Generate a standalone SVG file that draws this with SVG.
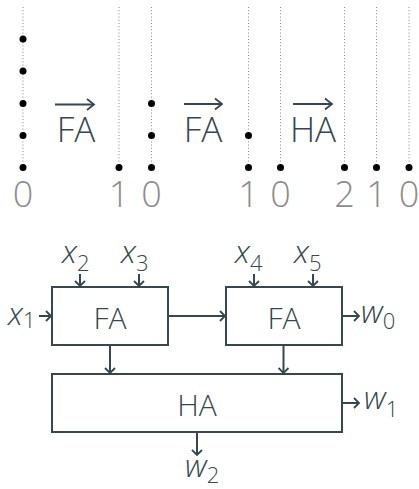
<svg xmlns="http://www.w3.org/2000/svg" width="419" height="489" viewBox="0 0 419 489">
<style>
.grid{stroke:#888;stroke-width:1;stroke-dasharray:1 2.2;fill:none}
.dot{fill:#000}
.dig{font-family:"Open Sans","Liberation Sans",sans-serif;font-weight:300;font-size:36px;fill:#8c8c8c;text-anchor:middle}
.op{font-family:"Open Sans","Liberation Sans",sans-serif;font-weight:300;font-size:35px;fill:#36474f;text-anchor:middle}
.box{fill:none;stroke:#36474f;stroke-width:2}
.lbl{font-family:"Open Sans","Liberation Sans",sans-serif;font-weight:300;font-size:30px;fill:#36474f;text-anchor:middle}
.var{font-family:"Open Sans","Liberation Sans",sans-serif;font-weight:300;font-size:32px;fill:#36474f;font-style:italic}
.sub{font-style:normal;font-size:22px}
.ln{fill:none;stroke:#36474f;stroke-width:2}
</style>
<defs>
<marker id="ah" markerUnits="userSpaceOnUse" markerWidth="12" markerHeight="12" refX="10" refY="6" orient="auto">
<path d="M5,1 L10,6 L5,11" fill="none" stroke="#36474f" stroke-width="1.8"/>
</marker>
<marker id="big" markerUnits="userSpaceOnUse" markerWidth="14" markerHeight="14" refX="12" refY="7" orient="auto">
<path d="M5,1.5 L12,7 L5,12.5" fill="none" stroke="#36474f" stroke-width="1.8"/>
</marker>
</defs>

<g id="dot-diagram">
<g id="grid">
<line class="grid" x1="23" y1="7" x2="23" y2="168"/>
<line class="grid" x1="119" y1="7" x2="119" y2="168"/>
<line class="grid" x1="151.5" y1="7" x2="151.5" y2="168"/>
<line class="grid" x1="248.5" y1="7" x2="248.5" y2="168"/>
<line class="grid" x1="280.5" y1="7" x2="280.5" y2="168"/>
<line class="grid" x1="344.5" y1="7" x2="344.5" y2="168"/>
<line class="grid" x1="376.5" y1="7" x2="376.5" y2="168"/>
<line class="grid" x1="409" y1="7" x2="409" y2="168"/>
</g>
<g id="dots">
<circle class="dot" cx="23" cy="39" r="3.5"/>
<circle class="dot" cx="23" cy="71" r="3.5"/>
<circle class="dot" cx="23" cy="103.5" r="3.5"/>
<circle class="dot" cx="23" cy="135.5" r="3.5"/>
<circle class="dot" cx="23" cy="167.5" r="3.5"/>
<circle class="dot" cx="119" cy="167.5" r="3.5"/>
<circle class="dot" cx="151.5" cy="103.5" r="3.5"/>
<circle class="dot" cx="151.5" cy="135.5" r="3.5"/>
<circle class="dot" cx="151.5" cy="167.5" r="3.5"/>
<circle class="dot" cx="248.5" cy="135.5" r="3.5"/>
<circle class="dot" cx="248.5" cy="167.5" r="3.5"/>
<circle class="dot" cx="280.5" cy="167.5" r="3.5"/>
<circle class="dot" cx="344.5" cy="167.5" r="3.5"/>
<circle class="dot" cx="376.5" cy="167.5" r="3.5"/>
<circle class="dot" cx="409" cy="167.5" r="3.5"/>
</g>
<g id="weights">
<text class="dig" x="23" y="207">0</text>
<text class="dig" x="119" y="207">1</text>
<text class="dig" x="151.5" y="207">0</text>
<text class="dig" x="248.5" y="207">1</text>
<text class="dig" x="280.5" y="207">0</text>
<text class="dig" x="344.5" y="207">2</text>
<text class="dig" x="376.5" y="207">1</text>
<text class="dig" x="409" y="207">0</text>
</g>
<g id="op-fa1">
<line class="ln" x1="55" y1="104.5" x2="94" y2="104.5" marker-end="url(#big)"/>
<text class="op" x="76" y="142">FA</text>
</g>
<g id="op-fa2">
<line class="ln" x1="184" y1="104" x2="222" y2="104" marker-end="url(#big)"/>
<text class="op" x="203" y="142">FA</text>
</g>
<g id="op-ha">
<line class="ln" x1="293" y1="104" x2="332" y2="104" marker-end="url(#big)"/>
<text class="op" x="313" y="142">HA</text>
</g>
</g>

<g id="node-fa1">
<rect class="box" x="52" y="287" width="116" height="58"/>
<text class="lbl" x="110" y="329">FA</text>
</g>
<g id="node-fa2">
<rect class="box" x="226" y="287" width="116" height="58"/>
<text class="lbl" x="284" y="329">FA</text>
</g>
<g id="node-ha">
<rect class="box" x="52" y="374" width="290" height="58"/>
<text class="lbl" x="197" y="416">HA</text>
</g>

<g id="labels">
<text class="var" x="8" y="325">x<tspan class="sub" dy="3">1</tspan></text>
<text class="var" x="62" y="263">x<tspan class="sub" dy="8">2</tspan></text>
<text class="var" x="121" y="263">x<tspan class="sub" dy="8">3</tspan></text>
<text class="var" x="235" y="263">x<tspan class="sub" dy="8">4</tspan></text>
<text class="var" x="294" y="263">x<tspan class="sub" dy="8">5</tspan></text>
<text class="var" x="361" y="323">w<tspan class="sub" dy="6">0</tspan></text>
<text class="var" x="364" y="409">w<tspan class="sub" dy="8">1</tspan></text>
<text class="var" x="185" y="477">w<tspan class="sub" dy="6">2</tspan></text>
</g>

<g id="connectors">
<line class="ln" x1="39" y1="316" x2="51" y2="316" marker-end="url(#ah)"/>
<line class="ln" x1="80" y1="274" x2="80" y2="286" marker-end="url(#ah)"/>
<line class="ln" x1="139" y1="274" x2="139" y2="286" marker-end="url(#ah)"/>
<line class="ln" x1="254" y1="274" x2="254" y2="286" marker-end="url(#ah)"/>
<line class="ln" x1="313" y1="274" x2="313" y2="286" marker-end="url(#ah)"/>
<line class="ln" x1="168" y1="316" x2="225" y2="316" marker-end="url(#ah)"/>
<line class="ln" x1="110" y1="345" x2="110" y2="373" marker-end="url(#ah)"/>
<line class="ln" x1="283.5" y1="345" x2="283.5" y2="373" marker-end="url(#ah)"/>
<line class="ln" x1="342" y1="316" x2="359" y2="316" marker-end="url(#ah)"/>
<line class="ln" x1="342" y1="403" x2="359" y2="403" marker-end="url(#ah)"/>
<line class="ln" x1="197" y1="432" x2="197" y2="455" marker-end="url(#ah)"/>
</g>
</svg>
